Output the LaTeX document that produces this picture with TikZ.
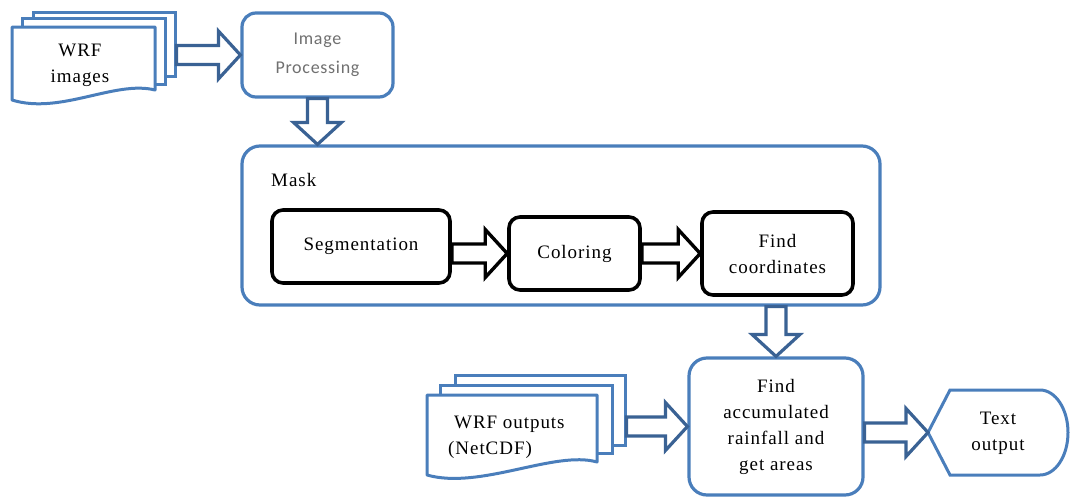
\documentclass[tikz,border=0pt]{standalone}
\usepackage{fontspec}
\setmainfont[LetterSpace=5]{Liberation Serif}
\newfontfamily\calibfont[LetterSpace=4]{Carlito}
\usetikzlibrary{calc}
\definecolor{bbord}{RGB}{74,126,187}
\definecolor{barr}{RGB}{58,98,148}
\definecolor{gtext}{RGB}{112,112,112}
\tikzset{
  txt/.style={font=\fontsize{19}{26}\selectfont, align=center, inner sep=0pt},
  bluebox/.style={draw=bbord, line width=3.2pt, fill=white, rounded corners=14pt, inner sep=0pt, txt},
  blackbox/.style={draw=black, line width=3.6pt, fill=white, rounded corners=11pt, inner sep=0pt, txt},
  pagebox/.style={draw=bbord, line width=3pt, fill=white, inner sep=0pt},
  pageline/.style={draw=bbord, line width=3pt, fill=white, line join=round},
  blockarr/.style={draw=barr, line width=3.2pt, fill=white, line join=miter},
  blackarr/.style={draw=black, line width=3.4pt, fill=white, line join=miter}
}
\newcommand{\harr}[3][blockarr]{%
  \draw[#1] let \p1=#2, \p2=#3 in
    (\x1,\y2+9.5pt) -- (\x2-22pt,\y2+9.5pt) -- (\x2-22pt,\y2+24pt) -- (\x2,\y2)
    -- (\x2-22pt,\y2-24pt) -- (\x2-22pt,\y2-9.5pt) -- (\x1,\y2-9.5pt) -- cycle;}
\newcommand{\varr}[3][blockarr]{%
  \draw[#1] let \p1=#2, \p2=#3 in
    (\x2-10pt,\y1) -- (\x2-10pt,\y2+22pt) -- (\x2-24pt,\y2+22pt) -- (\x2,\y2)
    -- (\x2+24pt,\y2+22pt) -- (\x2+10pt,\y2+22pt) -- (\x2+10pt,\y1) -- cycle;}
\begin{document}
\begin{tikzpicture}[x=1pt,y=-1pt]
\useasboundingbox (0,0) rectangle (1071,498);

% WRF images stack
\node[pagebox, minimum width=142pt, minimum height=64pt] (wi3) at (104,44) {};
\node[pagebox, minimum width=143pt, minimum height=66pt] (wi2) at (93.5,51) {};
\draw[pageline] (12,27) -- (155,27) -- (155,90) .. controls (115,80) and (60,115) .. (12,100) -- cycle;
\node[txt] (wi) at (80,65) {WRF\\images};

% Image processing
\node[bluebox, minimum width=151pt, minimum height=84pt,
      font=\calibfont\fontsize{18}{29}\selectfont, text=gtext] (ip) at (317.5,55) {Image\\Processing};

% Mask container
\node[bluebox, rounded corners=18pt, minimum width=638pt, minimum height=159pt] (mask) at (561,225.5) {};
\node[txt, anchor=west] (masklbl) at (271,180) {Mask};

\node[blackbox, minimum width=178pt, minimum height=73pt] (seg) at (361,246.5) {Segmentation};
\node[blackbox, minimum width=131pt, minimum height=73pt] (col) at (574.5,253.5) {Coloring};
\node[blackbox, minimum width=151pt, minimum height=83pt] (fc) at (777.5,253.5) {Find\\coordinates};

% Find accumulated
\node[bluebox, rounded corners=18pt, minimum width=174pt, minimum height=137pt] (fa) at (776,426.5)
  {Find\\accumulated\\rainfall and\\get areas};

% WRF outputs stack
\node[pagebox, minimum width=170pt, minimum height=70pt] (wo3) at (540,410) {};
\node[pagebox, minimum width=172pt, minimum height=68pt] (wo2) at (526,419) {};
\draw[pageline] (427,395) -- (597,395) -- (597,462) .. controls (555,450) and (480,490) .. (427,475) -- cycle;
\node[txt, align=left, anchor=west] (wo) at (448,437) {\hspace*{6pt}WRF outputs\\(NetCDF)};

% Text output
\coordinate (toL) at (928,432.5);
\draw[pageline, line join=miter] (toL) -- (950,390) -- (1040,390)
  arc[start angle=-90, end angle=90, x radius=28, y radius=42.5] -- (950,475) -- cycle;
\node[txt] (to) at (998,433) {Text\\output};

% Arrows
\harr{(wi3.east)}{(ip.west)}
\varr{(ip.south)}{(ip.south |- mask.north)}
\harr[blackarr]{(seg.east)}{(col.west)}
\harr[blackarr]{(col.east)}{(fc.west)}
\varr{(fc.south |- mask.south)}{(fa.north)}
\harr{(wo3.east)}{(fa.west)}
\harr{(fa.east)}{(toL)}
\end{tikzpicture}
\end{document}
